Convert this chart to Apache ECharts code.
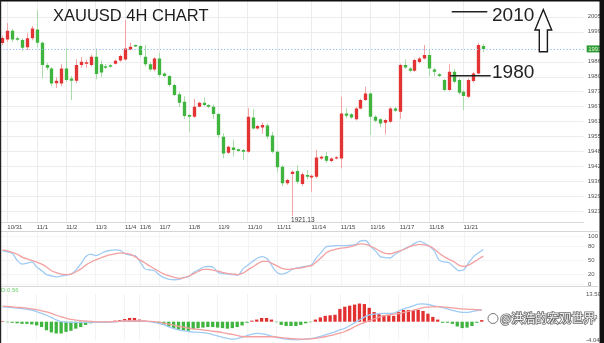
<!DOCTYPE html>
<html><head><meta charset="utf-8">
<script src="https://cdn.jsdelivr.net/npm/echarts@6/dist/echarts.min.js"></script>
<style>html,body{margin:0;padding:0;background:#fff}#c{width:604px;height:343px}</style>
</head><body><div id="c"></div>
<script>
// ---- data (4H candles) ----
const opens  = [1993.9,1995.4,1999.0,1995.8,1995.1,1992.1,1995.9,1999.6,1994.0,1984.6,1983.2,1977.0,1976.9,1983.2,1979.0,1978.0,1984.6,1985.2,1984.6,1988.1,1985.0,1984.0,1984.4,1985.2,1986.5,1987.0,1991.2,1992.9,1992.6,1988.1,1985.0,1982.8,1987.4,1981.1,1980.0,1976.2,1972.4,1969.2,1963.6,1962.9,1967.1,1968.8,1967.8,1967.1,1964.0,1954.5,1947.8,1950.0,1949.2,1948.9,1948.2,1962.6,1958.0,1958.4,1959.2,1955.0,1948.2,1941.9,1934.9,1938.8,1940.1,1934.6,1938.4,1937.4,1937.7,1945.4,1946.4,1944.3,1945.4,1945.4,1964.3,1963.9,1961.8,1966.4,1969.9,1972.7,1962.9,1961.8,1960.4,1960.8,1966.4,1965.0,1984.6,1983.2,1982.2,1985.9,1987.4,1988.8,1982.8,1980.7,1978.3,1974.1,1981.8,1978.3,1973.4,1971.3,1977.9,1981.1,1992.6];
const closes = [1996.0,1999.0,1995.4,1995.3,1991.9,1995.9,2000.0,1994.0,1984.6,1983.5,1976.9,1978.0,1983.2,1978.3,1978.0,1984.6,1986.0,1985.8,1988.1,1980.9,1981.5,1983.6,1984.0,1986.4,1988.4,1991.6,1992.3,1992.6,1988.8,1985.0,1982.8,1987.4,1980.4,1980.0,1976.2,1972.0,1968.8,1963.2,1962.9,1967.1,1968.8,1967.8,1967.1,1964.0,1955.2,1947.5,1950.3,1948.9,1948.5,1948.2,1962.9,1958.0,1959.0,1959.4,1954.6,1948.2,1941.7,1934.9,1936.3,1939.8,1935.6,1938.7,1937.7,1938.1,1945.8,1946.1,1944.4,1945.4,1945.8,1964.3,1963.3,1962.6,1966.4,1969.9,1972.7,1962.9,1961.2,1960.1,1961.5,1966.4,1965.4,1984.6,1983.6,1982.2,1986.7,1987.4,1988.8,1983.2,1981.8,1980.0,1974.1,1981.8,1977.6,1973.0,1971.6,1978.3,1981.1,1993.0,1991.4];
const lows   = [1993.0,1994.4,1994.4,1994.6,1990.6,1990.9,1995.0,1992.0,1979.0,1982.5,1975.8,1975.0,1975.8,1977.5,1969.9,1977.0,1983.5,1983.5,1984.0,1978.6,1979.5,1983.0,1983.5,1984.8,1986.0,1986.5,1990.8,1992.3,1988.0,1984.0,1982.0,1982.0,1979.5,1979.5,1975.5,1971.5,1967.0,1962.0,1956.6,1962.5,1966.8,1967.3,1966.5,1962.0,1954.0,1945.5,1947.2,1946.2,1948.0,1944.7,1947.8,1957.5,1957.5,1955.8,1953.5,1947.5,1939.5,1933.8,1934.3,1921.13,1934.8,1933.8,1936.5,1931.4,1937.0,1944.8,1943.5,1943.8,1945.0,1941.2,1962.2,1962.0,1961.3,1966.0,1969.5,1955.2,1960.5,1958.5,1955.5,1960.3,1964.8,1962.0,1983.0,1981.5,1981.8,1985.3,1987.0,1979.8,1979.8,1979.6,1973.5,1973.8,1977.0,1972.3,1965.7,1970.8,1977.3,1980.8,1990.0];
const highs  = [1997.0,2002.2,1999.8,1996.5,1996.0,1998.0,2001.0,2007.7,1994.5,1985.5,1983.8,1979.5,1985.0,1991.6,1980.0,1987.0,1988.0,1986.8,1989.0,1991.6,1986.5,1985.0,1985.2,1987.0,1989.0,2003.5,1994.0,1993.2,1993.0,1993.0,1986.0,1988.0,1989.8,1981.6,1980.5,1976.8,1973.4,1971.5,1964.0,1970.4,1969.2,1971.0,1968.2,1968.0,1964.5,1956.0,1950.8,1953.2,1949.6,1949.3,1966.5,1966.0,1959.5,1960.5,1960.0,1956.5,1948.8,1942.5,1936.8,1940.3,1942.5,1939.5,1940.5,1938.6,1949.0,1946.6,1948.2,1945.9,1946.3,1971.3,1966.5,1964.5,1967.0,1970.5,1975.5,1973.3,1963.5,1962.3,1962.0,1967.0,1967.0,1985.2,1987.0,1983.8,1987.3,1988.0,1993.0,1991.5,1983.3,1981.2,1978.8,1985.0,1983.0,1979.0,1974.0,1979.0,1981.8,1994.0,1993.5];
const stochK = [70,68,65,50,42,44,47,36,28,20,17,15,17,19,21,30,43,58,63,60,64,69,71,72,71,64,61,60,48,32,30,28,19,13,10,9,10,14,16,25,30,36,37,35,24,22,21,20,19,32,40,48,55,58,53,37,24,21,24,31,34,36,38,41,56,67,79,80,81,81,81,82,84,91,92,80,70,58,56,55,63,69,75,80,86,90,86,80,70,50,47,45,36,28,30,45,58,66,73];
const stochD = [72,70,67,63,57,53,50,46,42,36,28,24,21,20,21,26,32,40,46,51,55,59,62,64,66,65,63,58,51,45,38,32,26,21,17,14,12,13,17,22,27,31,31,29,27,24,22,21,20,23,30,36,43,48,48,43,38,33,31,32,33,34,37,39,47,56,66,71,74,76,77,79,82,85,84,80,75,69,65,64,67,70,74,79,82,84,83,80,74,65,58,52,47,40,37,40,46,53,59];
const macdDif = [8.6,8.5,8.3,8.1,7.9,7.7,7.4,6.8,6.1,5.4,4.6,3.6,3.0,2.8,2.7,2.7,2.7,2.7,2.7,2.7,2.7,2.7,2.8,2.9,3.1,3.2,3.2,3.2,3.2,3.1,3.0,2.7,2.3,1.8,1.0,0.4,-0.2,-0.5,-0.8,-1.0,-1.1,-1.2,-1.5,-2.0,-2.5,-3.0,-3.4,-3.7,-3.5,-3.0,-2.4,-1.8,-1.5,-1.6,-2.0,-2.6,-3.0,-3.4,-3.7,-3.9,-4.0,-3.9,-3.7,-3.5,-3.2,-2.7,-2.1,-1.5,-0.9,-0.2,0.4,1.4,2.5,3.6,4.7,5.5,5.8,6.0,6.1,6.1,6.2,7.0,7.8,8.4,9.0,9.6,9.7,9.5,9.1,8.7,8.3,7.8,7.3,6.8,6.5,6.5,6.8,7.2,7.5];
const macdDea = [8.9,8.8,8.6,8.4,8.3,8.1,7.8,7.5,7.1,6.7,6.1,5.4,4.8,4.3,3.8,3.5,3.3,3.2,3.1,2.9,2.9,2.9,2.9,3.0,3.1,3.2,3.2,3.2,3.2,3.2,3.1,3.0,2.8,2.4,2.0,1.6,1.2,0.9,0.5,0.2,0.0,-0.2,-0.4,-0.7,-0.9,-1.2,-1.6,-1.9,-2.3,-2.7,-2.8,-2.8,-2.8,-2.8,-2.8,-2.8,-2.9,-3.1,-3.3,-3.5,-3.6,-3.7,-3.7,-3.6,-3.4,-3.1,-2.8,-2.4,-1.9,-1.4,-0.8,0.0,1.0,1.9,2.6,3.3,4.0,4.7,5.2,5.5,5.8,6.0,6.4,6.9,7.3,7.8,8.3,8.5,8.6,8.7,8.6,8.4,8.2,8.0,7.8,7.7,7.6,7.5,7.4];
const macdHist = [0.05,-0.05,-0.1,-0.15,-0.2,-0.2,-0.25,-0.35,-0.5,-0.8,-1.0,-1.1,-1.1,-0.95,-0.85,-0.65,-0.5,-0.3,-0.15,-0.1,-0.05,-0.05,0.05,0.1,0.15,0.25,0.35,0.35,0.2,0.1,0.05,-0.05,-0.15,-0.3,-0.45,-0.6,-0.75,-0.85,-0.85,-0.7,-0.6,-0.55,-0.5,-0.5,-0.55,-0.6,-0.65,-0.6,-0.5,-0.35,-0.1,0.1,0.2,0.35,0.35,0.2,-0.05,-0.3,-0.4,-0.4,-0.4,-0.3,-0.15,-0.05,0.2,0.4,0.55,0.6,0.65,1.2,1.4,1.5,1.6,1.7,1.65,1.3,0.9,0.7,0.6,0.6,0.55,0.9,1.1,1.1,1.1,1.1,1.0,0.75,0.45,0.2,-0.1,-0.1,-0.2,-0.45,-0.6,-0.55,-0.4,-0.1,0.15];
const dayLabels = ['10/31','11/1','11/2','11/3','11/4','11/6','11/7','11/8','11/9','11/10','11/11','11/14','11/15','11/16','11/17','11/18','11/21'];
const dayIndex  = [1,7,13,19,25,28,32,38,44,50,56,63,69,75,81,87,94];
const priceTicks = [1923,1929.3,1935.6,1941.9,1948.2,1954.5,1960.8,1967.1,1973.4,1979.7,1986.0,1998.6,2004.9];
const oscTicks = [0,20,50,80,100];
const macdTicks = [-4.04,4.73,13.50];
const macdLastLabel = 'D:0.56';

// ---- build ----
const SLOTS = 119;
const categories = [];
for (let i = 0; i < SLOTS; i++) categories.push(String(i));
const labelMap = {};
dayIndex.forEach((k, j) => labelMap[k] = dayLabels[j]);
const isDay = (i) => labelMap[i] !== undefined;

const candleData = opens.map((o, i) => [i, o, closes[i], lows[i], highs[i]]);
let minIdx = 0;
lows.forEach((v, i) => { if (v < lows[minIdx]) minIdx = i; });
const lastClose = closes[closes.length - 1];

const UP = '#e23434', DOWN = '#3fb43f', UPW = '#f3a3a3', DOWNW = '#a9dca9';

function renderCandle(params, api) {
  const idx = api.value(0), o = api.value(1), c = api.value(2), l = api.value(3), h = api.value(4);
  const pO = api.coord([idx, o]), pC = api.coord([idx, c]);
  const pL = api.coord([idx, l]), pH = api.coord([idx, h]);
  const w = api.size([1, 0])[0] * 0.68;
  const up = c >= o;
  const x = Math.round(pO[0]) + 0.5;
  const top = Math.min(pO[1], pC[1]), bot = Math.max(pO[1], pC[1]);
  const hgt = Math.max(bot - top, 1.4);
  return { type: 'group', children: [
    { type: 'line', shape: { x1: x, y1: pH[1], x2: x, y2: pL[1] }, style: { stroke: up ? UPW : DOWNW, lineWidth: 1 } },
    { type: 'rect', shape: { x: x - w / 2, y: (top + bot) / 2 - hgt / 2, width: w, height: hgt }, style: { fill: up ? UP : DOWN } }
  ]};
}

function makeX(gi) {
  return {
    type: 'category', gridIndex: gi, data: categories, boundaryGap: true,
    axisLine: { show: gi === 0, lineStyle: { color: '#d9d9d9', width: 1 } },
    axisTick: { show: false },
    axisLabel: { show: gi === 0, interval: (i) => isDay(i), formatter: (v, i) => labelMap[i] || '',
                 align: 'left', fontSize: 6, color: '#444', margin: 2 },
    splitLine: { show: true, interval: (i) => isDay(i), alignWithLabel: true,
                 lineStyle: { color: gi === 0 ? '#ececec' : '#f3f3f3', width: 1 } }
  };
}

const option = {
  animation: false,
  backgroundColor: '#fff',
  textStyle: { fontFamily: 'Liberation Sans, Arial, sans-serif' },
  grid: [
    { left: 0, right: 20, top: 0, height: 222.5 },
    { left: 0, right: 20, top: 232, height: 54 },
    { left: 0, right: 20, top: 294, height: 46 }
  ],
  xAxis: [makeX(0), makeX(1), makeX(2)],
  yAxis: [
    { type: 'value', gridIndex: 0, position: 'right', min: 1918.46, max: 2011.95, scale: true,
      axisLine: { show: false }, axisTick: { show: false, customValues: priceTicks },
      axisLabel: { customValues: priceTicks, formatter: (v) => Math.round(v), fontSize: 6, color: '#555', margin: 4, align: 'left' },
      splitLine: { show: true, lineStyle: { color: '#ececec' } } },
    { type: 'value', gridIndex: 1, position: 'right', min: -4.2, max: 110,
      axisLine: { show: false }, axisTick: { show: false, customValues: oscTicks },
      axisLabel: { customValues: oscTicks, fontSize: 6, color: '#555', margin: 4, align: 'left' },
      splitLine: { show: true, lineStyle: { color: '#f4f4f4' } } },
    { type: 'value', gridIndex: 2, position: 'right', min: -4.04, max: 13.5,
      axisLine: { show: false }, axisTick: { show: false, customValues: macdTicks },
      axisLabel: { customValues: macdTicks, formatter: (v) => v.toFixed(2), fontSize: 6, color: '#555', margin: 4, align: 'left', showMinLabel: true, showMaxLabel: true },
      splitLine: { show: false } },
    { type: 'value', gridIndex: 2, position: 'right', min: -1.71, max: 2.59, show: false,
      splitLine: { show: false } }
  ],
  series: [
    { type: 'custom', name: 'XAUUSD', xAxisIndex: 0, yAxisIndex: 0, data: candleData,
      encode: { x: 0, y: [1, 2, 3, 4] }, renderItem: renderCandle, clip: true,
      markLine: { silent: true, symbol: ['none', 'none'],
        lineStyle: { type: [1.2, 2], color: '#8fb9ef', width: 1 },
        label: { position: 'end', formatter: (p) => Math.round(p.value), backgroundColor: '#2e9a36', color: '#e6ffd9',
                 fontSize: 6, padding: [1, 1.5, 0, 1.5], distance: 3 },
        data: [{ yAxis: lastClose }] },
      markPoint: { silent: true, symbol: 'circle', symbolSize: 0,
        label: { show: true, position: 'bottom', distance: 1, offset: [11, 0], fontSize: 6.5, color: '#333',
                 formatter: (p) => lows[minIdx].toFixed(2) },
        data: [{ coord: [minIdx, lows[minIdx]], value: lows[minIdx] }] }
    },
    { type: 'line', name: 'K', xAxisIndex: 1, yAxisIndex: 1, data: stochK, symbol: 'none', smooth: 0.3,
      lineStyle: { color: '#9fcbf4', width: 1.3 } },
    { type: 'line', name: 'D', xAxisIndex: 1, yAxisIndex: 1, data: stochD, symbol: 'none', smooth: 0.3,
      lineStyle: { color: '#f4a0a0', width: 1.3 } },
    { type: 'bar', name: 'MACD', xAxisIndex: 2, yAxisIndex: 3, data: macdHist, barWidth: 3.3,
      itemStyle: { color: (p) => p.value >= 0 ? '#e23030' : '#3fb43f' } },
    { type: 'line', name: 'DIF', xAxisIndex: 2, yAxisIndex: 2, data: macdDif, symbol: 'none', smooth: 0.3,
      lineStyle: { color: '#9fcbf4', width: 1.3 } },
    { type: 'line', name: 'DEA', xAxisIndex: 2, yAxisIndex: 2, data: macdDea, symbol: 'none', smooth: 0.3,
      lineStyle: { color: '#f4a0a0', width: 1.3 } }
  ],
  graphic: [
    // panel separators
    { type: 'line', shape: { x1: 0, y1: 231.5, x2: 598, y2: 231.5 }, style: { stroke: '#d6d6d6', lineWidth: 1 }, z: 10 },
    { type: 'line', shape: { x1: 0, y1: 286.5, x2: 598, y2: 286.5 }, style: { stroke: '#d6d6d6', lineWidth: 1 }, z: 10 },
    // title
    { type: 'text', left: 53, top: 8, style: { text: 'XAUUSD 4H CHART', font: '16.5px "Liberation Sans", Arial, sans-serif', fill: '#1c1c1c' }, z: 20 },
    // 2010 annotation
    { type: 'line', shape: { x1: 451.7, y1: 11.7, x2: 487.3, y2: 11.7 }, style: { stroke: '#222', lineWidth: 1.6 }, z: 20 },
    { type: 'text', x: 492, y: 16, style: { text: '2010', font: '19px "Liberation Sans", Arial, sans-serif', fill: '#222', verticalAlign: 'middle' }, z: 20 },
    // 1980 annotation
    { type: 'line', shape: { x1: 450, y1: 75.7, x2: 490.7, y2: 75.7 }, style: { stroke: '#222', lineWidth: 1.6 }, z: 20 },
    { type: 'text', x: 492, y: 73, style: { text: '1980', font: '19px "Liberation Sans", Arial, sans-serif', fill: '#222', verticalAlign: 'middle' }, z: 20 },
    // up arrow
    { type: 'polygon', shape: { points: [[543.3, 9.5], [551.7, 30], [547.4, 30], [547.4, 51.7], [539.3, 51.7], [539.3, 30], [535, 30]] },
      style: { fill: '#fff', stroke: '#1a1a1a', lineWidth: 1.4 }, z: 20 },
    // MACD value label
    { type: 'text', x: 1, y: 290, style: { text: macdLastLabel, font: '6px "Liberation Sans", Arial, sans-serif', fill: '#6ccf6c', verticalAlign: 'middle' }, z: 20 },
    // watermark
    { type: 'circle', shape: { cx: 493, cy: 318.5, r: 5 }, style: { fill: 'rgba(255,255,255,0.6)', stroke: '#777', lineWidth: 1 }, z: 30 },
    { type: 'text', x: 500, y: 318.5, style: { text: '@洪浩的宏观世界', font: '12px "Noto Sans CJK SC", sans-serif', fill: '#f7f7f7',
      stroke: '#6d6d6d', lineWidth: 1.6, verticalAlign: 'middle' }, z: 30 },
    // image frame
    { type: 'rect', shape: { x: 0, y: 0, width: 604, height: 1.5 }, style: { fill: '#111' }, z: 40 },
    { type: 'rect', shape: { x: 0, y: 0, width: 1.2, height: 343 }, style: { fill: '#222' }, z: 40 },
    { type: 'rect', shape: { x: 599.5, y: 0, width: 4.5, height: 343 }, style: { fill: '#111' }, z: 40 }
  ]
};

const chart = echarts.init(document.getElementById('c'), null, { renderer: 'canvas' });
chart.setOption(option);
</script>
</body></html>
